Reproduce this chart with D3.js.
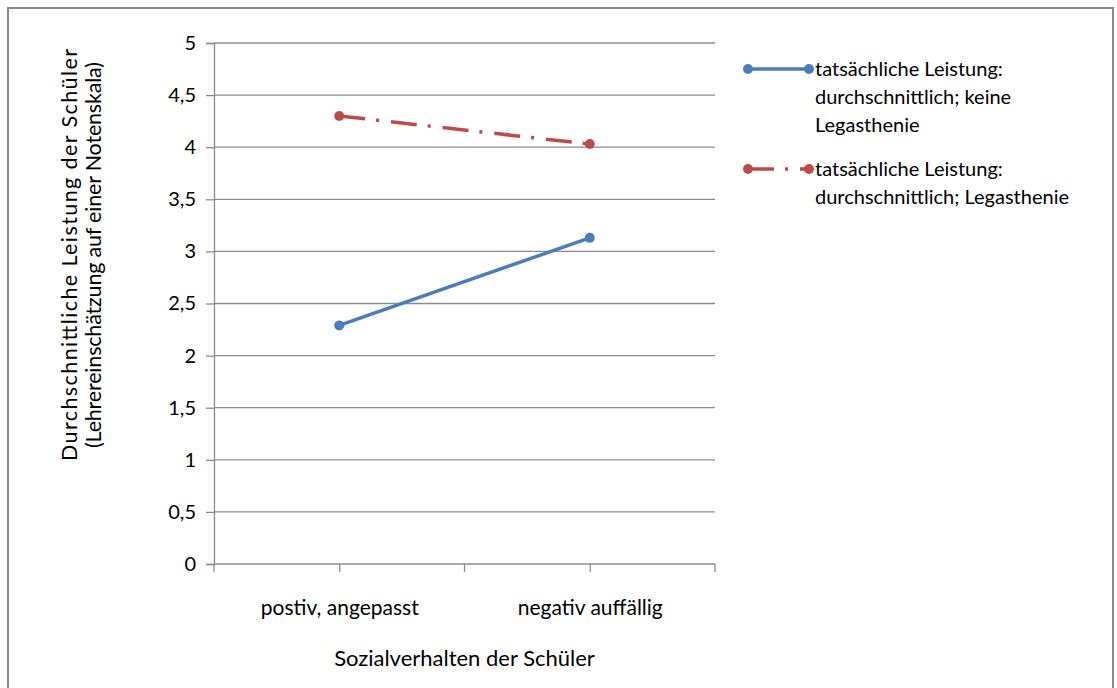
<!DOCTYPE html>
<html>
<head>
<meta charset="utf-8">
<script src="https://cdn.jsdelivr.net/npm/d3@7"></script>
<style>
body{margin:0;background:#fff;}
text{font-family:"Lato","Open Sans",sans-serif;fill:#000;}
</style>
</head>
<body>
<div id="chart-area"></div>
<script>
var categories=["postiv, angepasst","negativ auffällig"];
var seriesNames=["tatsächliche Leistung: durchschnittlich; keine Legasthenie",
                 "tatsächliche Leistung: durchschnittlich; Legasthenie"];
var keineLegasthenie=[2.29,3.13];
var legasthenie=[4.30,4.03];
var yTicks=[0,0.5,1,1.5,2,2.5,3,3.5,4,4.5,5];
var legendLines=[["tatsächliche Leistung:","durchschnittlich; keine","Legasthenie"],
                 ["tatsächliche Leistung:","durchschnittlich; Legasthenie"]];

var colors=["#4a7ebb","#be4b48"];
var dashes=[null,"26 11 3 12"];

var W=1117,H=688;
var margin={left:214,top:43};
var width=501,height=521;

var svg=d3.select("#chart-area").append("svg")
    .attr("width",W)
    .attr("height",H);

// outer frame
svg.append("rect")
    .attr("x",8).attr("y",8)
    .attr("width",1105).attr("height",700)
    .attr("fill","none")
    .attr("stroke","#8a8a8a")
    .attr("stroke-width",2);

var g=svg.append("g")
    .attr("transform","translate("+margin.left+","+margin.top+")");

var x=d3.scalePoint()
    .domain(categories)
    .range([0,width])
    .padding(0.5);

var y=d3.scaleLinear()
    .domain([0,5])
    .range([height,0]);

// gridlines
g.selectAll(".grid")
    .data(yTicks.filter(d=>d>0))
    .enter().append("line")
    .attr("class","grid")
    .attr("x1",0).attr("x2",width)
    .attr("y1",d=>y(d)).attr("y2",d=>y(d))
    .attr("stroke","#8c8c8c")
    .attr("stroke-width",1.3);

// y axis
var leftAxis=d3.axisLeft(y)
    .tickValues(yTicks)
    .tickSize(8)
    .tickPadding(10)
    .tickFormat(d=>d3.format("")(d).replace(".",","));
var yAxisGroup=g.append("g").call(leftAxis);
yAxisGroup.select(".domain").attr("stroke","#8c8c8c").attr("stroke-width",1.3);
yAxisGroup.selectAll(".tick line").attr("stroke","#8c8c8c").attr("stroke-width",1.3);
yAxisGroup.selectAll("text")
    .attr("font-size","20px")
    .attr("font-family","Lato, sans-serif")
    .attr("fill","#000");

// x axis
var step=x.step();
var bottomAxis=d3.axisBottom(x).tickSize(8).tickPadding(28);
var xAxisGroup=g.append("g")
    .attr("transform","translate(0,"+height+")")
    .call(bottomAxis);
xAxisGroup.select(".domain").remove();
xAxisGroup.append("line")
    .attr("x1",0).attr("x2",width)
    .attr("stroke","#8c8c8c").attr("stroke-width",1.3);
xAxisGroup.selectAll(".tick line").attr("stroke","#8c8c8c").attr("stroke-width",1.3);
// category boundary ticks
xAxisGroup.selectAll(".btick")
    .data([0,1,2])
    .enter().append("line")
    .attr("class","btick")
    .attr("x1",d=>x(categories[0])-step/2+d*step)
    .attr("x2",d=>x(categories[0])-step/2+d*step)
    .attr("y1",0).attr("y2",8)
    .attr("stroke","#8c8c8c").attr("stroke-width",1.3);
xAxisGroup.selectAll(".tick text")
    .attr("font-size","21px")
    .attr("font-family","Lato, sans-serif")
    .attr("fill","#000");

// axis titles
g.append("text")
    .attr("x",width/2)
    .attr("y",height+102)
    .attr("text-anchor","middle")
    .attr("font-size","22px")
    .text("Sozialverhalten der Schüler");

var yTitle=svg.append("text")
    .attr("transform","translate(77,255) rotate(-90)")
    .attr("text-anchor","middle")
    .attr("font-size","21.5px");
yTitle.append("tspan").attr("x",0).attr("y",0)
    .attr("textLength",412).attr("lengthAdjust","spacing")
    .text("Durchschnittliche Leistung der Schüler");
yTitle.append("tspan").attr("x",0).attr("y",24)
    .attr("textLength",386).attr("lengthAdjust","spacing")
    .text("(Lehrereinschätzung auf einer Notenskala)");

// series
var series=[keineLegasthenie,legasthenie];
var line=d3.line()
    .x((d,i)=>x(categories[i]))
    .y(d=>y(d));

series.forEach((vals,s)=>{
    g.append("path")
        .datum(vals)
        .attr("d",line)
        .attr("fill","none")
        .attr("stroke",colors[s])
        .attr("stroke-width",3.5)
        .attr("stroke-dasharray",dashes[s]);
    g.selectAll(".pt"+s)
        .data(vals)
        .enter().append("circle")
        .attr("cx",(d,i)=>x(categories[i]))
        .attr("cy",d=>y(d))
        .attr("r",5)
        .attr("fill",colors[s]);
});

// legend
var legend=svg.append("g").attr("transform","translate(748,69)");
legendLines.forEach((lines,s)=>{
    var lg=legend.append("g").attr("transform","translate(0,"+(s*100)+")");
    lg.append("line")
        .attr("x1",0).attr("x2",61)
        .attr("stroke",colors[s])
        .attr("stroke-width",3.5)
        .attr("stroke-dasharray",dashes[s]);
    lg.selectAll("circle")
        .data([0,61])
        .enter().append("circle")
        .attr("cx",d=>d).attr("cy",0).attr("r",5)
        .attr("fill",colors[s]);
    var t=lg.append("text")
        .attr("font-size","20px");
    lines.forEach((l,i)=>{
        t.append("tspan")
            .attr("x",67)
            .attr("y",i*28+7)
            .text(l);
    });
});
</script>
</body>
</html>
